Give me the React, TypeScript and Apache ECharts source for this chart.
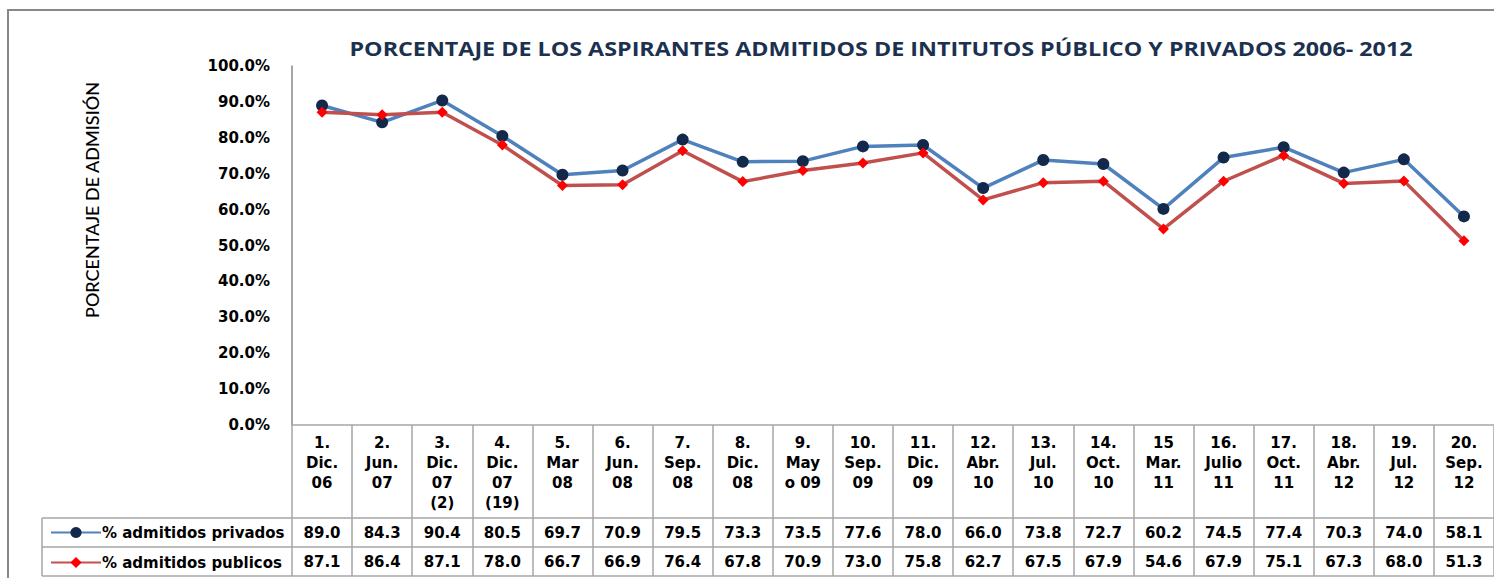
import React, { useEffect, useRef } from "react";
import * as echarts from "echarts";

const categories: string[] = [
  "1.\nDic.\n06",
  "2.\nJun.\n07",
  "3.\nDic.\n07\n(2)",
  "4.\nDic.\n07\n(19)",
  "5.\nMar\n08",
  "6.\nJun.\n08",
  "7.\nSep.\n08",
  "8.\nDic.\n08",
  "9.\nMay\no 09",
  "10.\nSep.\n09",
  "11.\nDic.\n09",
  "12.\nAbr.\n10",
  "13.\nJul.\n10",
  "14.\nOct.\n10",
  "15\nMar.\n11",
  "16.\nJulio\n11",
  "17.\nOct.\n11",
  "18.\nAbr.\n12",
  "19.\nJul.\n12",
  "20.\nSep.\n12",
];

const privados: number[] = [89.0, 84.3, 90.4, 80.5, 69.7, 70.9, 79.5, 73.3, 73.5, 77.6, 78.0, 66.0, 73.8, 72.7, 60.2, 74.5, 77.4, 70.3, 74.0, 58.1];
const publicos: number[] = [87.1, 86.4, 87.1, 78.0, 66.7, 66.9, 76.4, 67.8, 70.9, 73.0, 75.8, 62.7, 67.5, 67.9, 54.6, 67.9, 75.1, 67.3, 68.0, 51.3];

const seriesNames: string[] = ["% admitidos privados", "% admitidos publicos"];
const title = "PORCENTAJE DE LOS ASPIRANTES ADMITIDOS DE INTITUTOS PÚBLICO Y PRIVADOS 2006- 2012";
const yTitle = "PORCENTAJE DE ADMISIÓN";

const TABLE_FONT = "'DejaVu Sans', Verdana, sans-serif";
const GRID_COLOR = "#a6a6a6";

export default function App() {
  const ref = useRef<HTMLDivElement>(null);
  useEffect(() => {
    if (!ref.current) return;
    const chart = echarts.init(ref.current, undefined, { renderer: "svg" });
    const gridLeft = 292;
    const gridTop = 66;
    const gridW = 1203;
    const gridH = 359;
    const axisY = gridTop + gridH;
    const rowLines = [518, 547, 576];
    const labelStyle = {
      fontFamily: TABLE_FONT,
      fontWeight: "bold" as const,
      fontSize: 15,
      color: "#000",
    };
    chart.setOption({
      animation: false,
      backgroundColor: "#fff",
      grid: { left: gridLeft, top: gridTop, width: gridW, height: gridH, containLabel: false },
      legend: {
        data: seriesNames,
        orient: "vertical",
        left: 50,
        top: 525,
        padding: 0,
        itemWidth: 50,
        itemHeight: 14,
        itemGap: 15,
        textStyle: { ...labelStyle, lineHeight: 15, padding: [0, 0, 0, -4] },
      },
      xAxis: [
        {
          type: "category",
          data: categories,
          boundaryGap: true,
          position: "bottom",
          axisLine: { show: true, lineStyle: { color: GRID_COLOR, width: 1.5 } },
          axisTick: { show: true, interval: 0, length: 151, alignWithLabel: false, lineStyle: { color: GRID_COLOR, width: 1.5 } },
          axisLabel: { interval: 0, margin: 8, lineHeight: 20, ...labelStyle },
          splitLine: { show: false },
        },
        {
          type: "category",
          data: privados.map((v) => v.toFixed(1)),
          position: "bottom",
          offset: rowLines[0] - axisY,
          axisLine: { show: false },
          axisTick: { show: false },
          axisLabel: { interval: 0, margin: 7, lineHeight: 15, ...labelStyle },
        },
        {
          type: "category",
          data: publicos.map((v) => v.toFixed(1)),
          position: "bottom",
          offset: rowLines[1] - axisY,
          axisLine: { show: false },
          axisTick: { show: false },
          axisLabel: { interval: 0, margin: 7, lineHeight: 15, ...labelStyle },
        },
      ],
      yAxis: {
        type: "value",
        min: 0,
        max: 100,
        interval: 10,
        axisLine: { show: true, lineStyle: { color: "#888", width: 1.5 } },
        axisTick: { show: false },
        splitLine: { show: false },
        axisLabel: { margin: 22, formatter: (v: number) => v.toFixed(1) + "%", ...labelStyle },
      },
      series: [
        {
          name: seriesNames[0],
          type: "line",
          data: privados,
          xAxisIndex: 0,
          symbol: "circle",
          symbolSize: 12,
          lineStyle: { color: "#4f81bd", width: 3.5 },
          itemStyle: { color: "#13294b" },
          z: 2,
        },
        {
          name: seriesNames[1],
          type: "line",
          data: publicos,
          xAxisIndex: 0,
          symbol: "diamond",
          symbolSize: 11,
          lineStyle: { color: "#c0504d", width: 3.5 },
          itemStyle: { color: "#ff0000" },
          z: 3,
        },
      ],
      graphic: [
        {
          type: "rect",
          shape: { x: 8, y: 10, width: 1700, height: 800 },
          style: { fill: "none", stroke: "#888", lineWidth: 2 },
          silent: true,
        },
        ...rowLines.map((y) => ({
          type: "line",
          shape: { x1: 42, y1: y, x2: gridLeft + gridW, y2: y },
          style: { stroke: GRID_COLOR, lineWidth: 1.5 },
          silent: true,
        })),
        {
          type: "line",
          shape: { x1: 42, y1: rowLines[0], x2: 42, y2: rowLines[2] },
          style: { stroke: GRID_COLOR, lineWidth: 1.5 },
          silent: true,
        },
        {
          type: "text",
          x: 881,
          y: 48,
          scaleX: 1.165,
          style: {
            text: title,
            fill: "#1c3150",
            font: "bold 20px 'Open Sans', Lato, sans-serif",
            textAlign: "center",
            textVerticalAlign: "middle",
          },
        },
        {
          type: "text",
          x: 92,
          y: 200,
          rotation: Math.PI / 2,
          style: {
            text: yTitle,
            fill: "#000",
            font: "500 18px Lato, 'Open Sans', sans-serif",
            textAlign: "center",
            textVerticalAlign: "middle",
          },
        },
      ],
    });
    return () => chart.dispose();
  }, []);
  return <div ref={ref} style={{ position: "fixed", left: 0, top: 0, width: 1494, height: 578 }} />;
}
